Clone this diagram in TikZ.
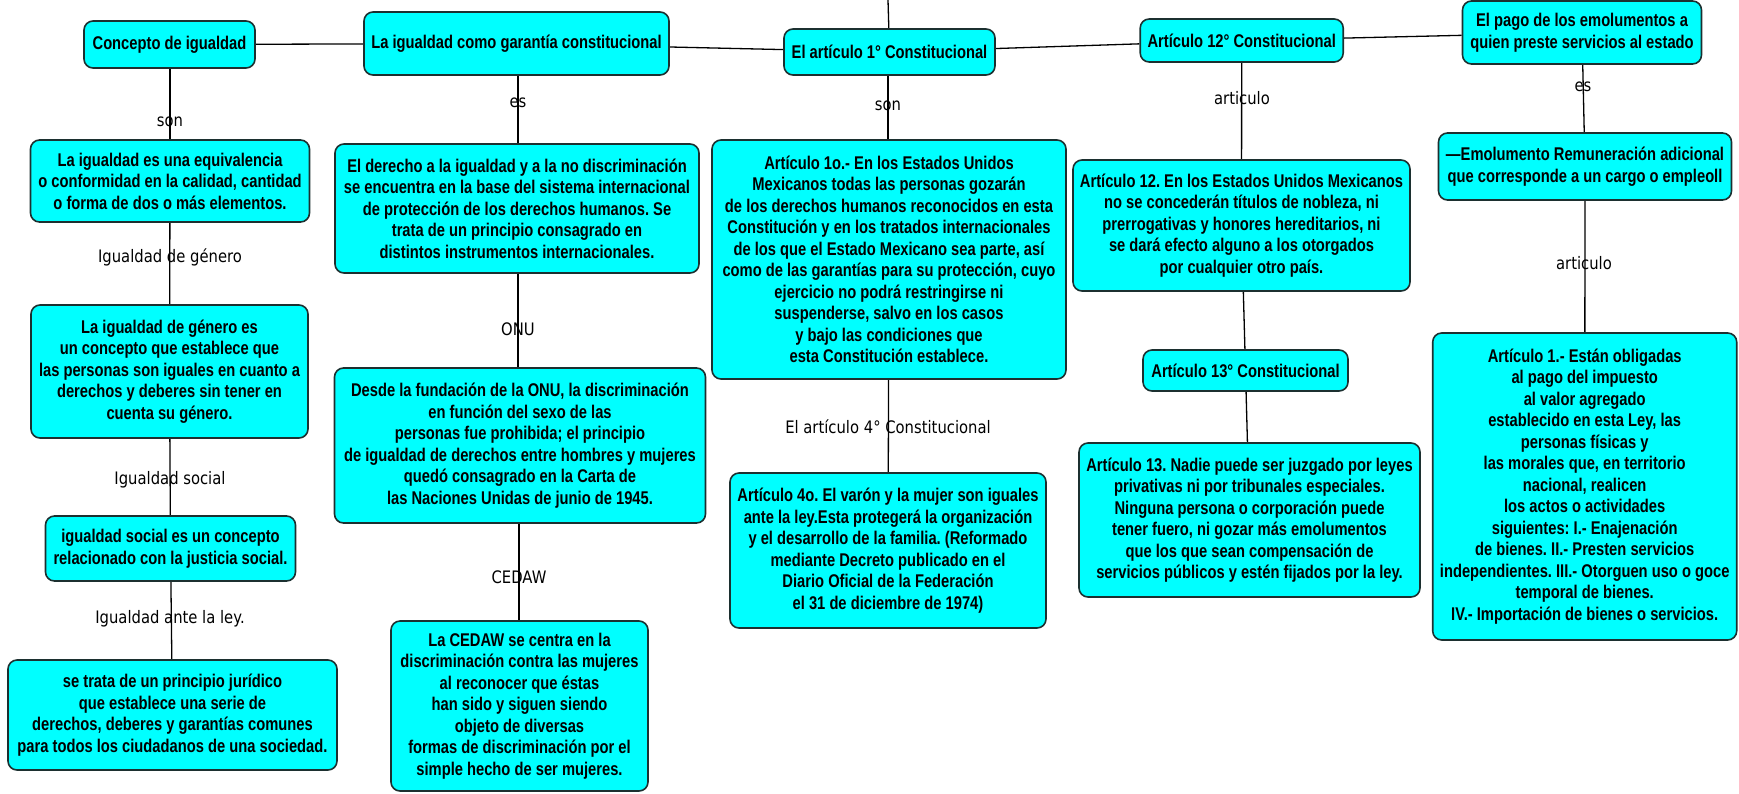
\documentclass[tikz,border=0pt]{standalone}
\usepackage{fontspec}
\usetikzlibrary{backgrounds}
\newfontfamily\boxfont[FakeStretch=0.80]{Liberation Sans}
\newfontfamily\lblfont[FakeStretch=0.86]{DejaVu Sans}
\definecolor{cyanfill}{RGB}{0,255,255}
\definecolor{boxborder}{RGB}{28,48,48}
\frenchspacing
\begin{document}
\begin{tikzpicture}[x=1pt,y=-1pt,
  box/.style={draw=boxborder, line width=1.6pt, fill=cyanfill, rounded corners=9pt,
    align=center, inner xsep=2pt, inner ysep=0pt,
    font=\boxfont\bfseries\fontsize{18.4}{21.5}\selectfont},
  lbl/.style={inner sep=1pt, font=\lblfont\fontsize{17.2}{19}\selectfont},
  conn/.style={draw=black, line width=1.3pt}]
\useasboundingbox (0,0) rectangle (1739,793);
% top row
\node[box, minimum width=171pt, minimum height=47pt] (T1) at (169.5,44.5) {Concepto de igualdad};
\node[box, minimum width=305pt, minimum height=63pt] (T2) at (516.5,43.5) {La igualdad como garantía constitucional};
\node[box, minimum width=211pt, minimum height=46pt] (T3) at (889.5,52) {El artículo 1° Constitucional};
\node[box, minimum width=203pt, minimum height=43pt] (T4) at (1241.7,40.5) {Artículo 12° Constitucional};
\node[box, minimum width=239pt, minimum height=63pt] (T5) at (1582,32.5) {El pago de los emolumentos a\\quien preste servicios al estado};
\coordinate (up) at (888,0);
% column 1
\node[box, minimum width=279pt, minimum height=82pt] (A1) at (170,181) {La igualdad es una equivalencia\\o conformidad en la calidad, cantidad\\o forma de dos o más elementos.};
\node[box, minimum width=277pt, minimum height=133pt] (A2) at (169.5,371.5) {La igualdad de género es\\un concepto que establece que\\las personas son iguales en cuanto a\\derechos y deberes sin tener en\\cuenta su género.};
\node[box, minimum width=250pt, minimum height=65pt] (A3) at (170.5,548.5) {igualdad social es un concepto\\relacionado con la justicia social.};
\node[box, minimum width=329pt, minimum height=110pt] (A4) at (172.5,715) {se trata de un principio jurídico\\que establece una serie de\\derechos, deberes y garantías comunes\\para todos los ciudadanos de una sociedad.};
% column 2
\node[box, minimum width=364pt, minimum height=129pt] (B1) at (517,208.5) {El derecho a la igualdad y a la no discriminación\\se encuentra en la base del sistema internacional\\de protección de los derechos humanos. Se\\trata de un principio consagrado en\\distintos instrumentos internacionales.};
\node[box, minimum width=371pt, minimum height=155pt] (B2) at (520,445.5) {Desde la fundación de la ONU, la discriminación\\en función del sexo de las\\personas fue prohibida; el principio\\de igualdad de derechos entre hombres y mujeres\\quedó consagrado en la Carta de\\las Naciones Unidas de junio de 1945.};
\node[box, minimum width=257pt, minimum height=170pt] (B3) at (519.5,706) {La CEDAW se centra en la\\discriminación contra las mujeres\\al reconocer que éstas\\han sido y siguen siendo\\objeto de diversas\\formas de discriminación por el\\simple hecho de ser mujeres.};
% column 3
\node[box, minimum width=354pt, minimum height=239pt] (C1) at (889,259.5) {Artículo 1o.- En los Estados Unidos\\Mexicanos todas las personas gozarán\\de los derechos humanos reconocidos en esta\\Constitución y en los tratados internacionales\\de los que el Estado Mexicano sea parte, así\\como de las garantías para su protección, cuyo\\ejercicio no podrá restringirse ni\\suspenderse, salvo en los casos\\y bajo las condiciones que\\esta Constitución establece.};
\node[box, minimum width=316pt, minimum height=155pt] (C2) at (888,550.5) {Artículo 4o. El varón y la mujer son iguales\\ante la ley.Esta protegerá la organización\\y el desarrollo de la familia. (Reformado\\mediante Decreto publicado en el\\Diario Oficial de la Federación\\el 31 de diciembre de 1974)};
% column 4
\node[box, minimum width=337pt, minimum height=131pt] (D1) at (1241.5,225.5) {Artículo 12. En los Estados Unidos Mexicanos\\no se concederán títulos de nobleza, ni\\prerrogativas y honores hereditarios, ni\\se dará efecto alguno a los otorgados\\por cualquier otro país.};
\node[box, minimum width=205pt, minimum height=41pt] (D2) at (1245.5,370.5) {Artículo 13° Constitucional};
\node[box, minimum width=341pt, minimum height=154pt] (D3) at (1249.5,520) {Artículo 13. Nadie puede ser juzgado por leyes\\privativas ni por tribunales especiales.\\Ninguna persona o corporación puede\\tener fuero, ni gozar más emolumentos\\que los que sean compensación de\\servicios públicos y estén fijados por la ley.};
% column 5
\node[box, minimum width=293pt, minimum height=67pt] (E1) at (1585,166.5) {—Emolumento Remuneración adicional\\que corresponde a un cargo o empleoll};
\node[box, minimum width=304pt, minimum height=307pt] (E2) at (1584.7,486.5) {Artículo 1.- Están obligadas\\al pago del impuesto\\al valor agregado\\establecido en esta Ley, las\\personas físicas y\\las morales que, en territorio\\nacional, realicen\\los actos o actividades\\siguientes: I.- Enajenación\\de bienes. II.- Presten servicios\\independientes. III.- Otorguen uso o goce\\temporal de bienes.\\IV.- Importación de bienes o servicios.};
% linking phrases
\node[lbl] (l1) at (170,122) {son};
\node[lbl] (l2) at (170,257) {Igualdad de género};
\node[lbl] (l3) at (170,480) {Igualdad social};
\node[lbl] (l4) at (170,619) {Igualdad ante la ley.};
\node[lbl] (l5) at (518,103) {es};
\node[lbl] (l6) at (518,329) {ONU};
\node[lbl] (l7) at (519,577) {CEDAW};
\node[lbl] (l8) at (888,106) {son};
\node[lbl] (l9) at (888,427) {El artículo 4° Constitucional};
\node[lbl] (l10) at (1242,98) {articulo};
\node[lbl] (l11) at (1583,87) {es};
\node[lbl] (l12) at (1584,263) {articulo};
% connectors
\begin{scope}[on background layer]
\draw[conn] (T1) -- (T2);
\draw[conn] (T2) -- (T3);
\draw[conn] (T3) -- (T4);
\draw[conn] (T4) -- (T5);
\draw[conn] (T3) -- (up);
\draw[conn] (T1.south -| l1) -- (A1.north -| l1);
\draw[conn] (A1) -- (A2);
\draw[conn] (A2) -- (A3);
\draw[conn] (A3) -- (A4);
\draw[conn] (T2.south -| l5) -- (B1.north -| l5);
\draw[conn] (B1.south -| l6) -- (B2.north -| l6);
\draw[conn] (B2.south -| l7) -- (B3.north -| l7);
\draw[conn] (T3.south -| l8) -- (C1.north -| l8);
\draw[conn] (C1) -- (C2);
\draw[conn] (T4) -- (D1);
\draw[conn] (D1) -- (D2);
\draw[conn] (D2) -- (D3);
\draw[conn] (T5) -- (E1);
\draw[conn] (E1) -- (E2);
\end{scope}
\end{tikzpicture}
\end{document}
